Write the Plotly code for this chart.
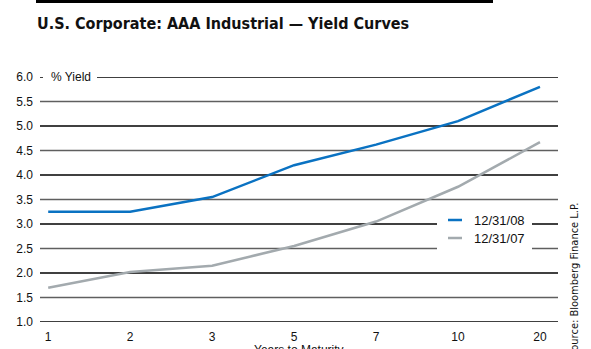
import plotly.graph_objects as go

# Yield curve data: maturity buckets (years) and yields (%)
maturities = ["1", "2", "3", "5", "7", "10", "20"]
yield_2008 = [3.25, 3.25, 3.55, 4.20, 4.62, 5.10, 5.80]
yield_2007 = [1.70, 2.02, 2.15, 2.55, 3.05, 3.76, 4.67]
series_names = ["12/31/08", "12/31/07"]
series_colors = ["#0a72c2", "#a3aaae"]
y_ticks = [1.0, 1.5, 2.0, 2.5, 3.0, 3.5, 4.0, 4.5, 5.0, 5.5, 6.0]

W, H = 591, 349
L, R, T, B = 40, 33, 77, 27
plot_w = W - L - R
plot_h = H - T - B

def px_x(p):
    return (p - L) / plot_w

def px_y(p):
    return (H - B - p) / plot_h

fig = go.Figure()
for name, vals, col in zip(series_names, [yield_2008, yield_2007], series_colors):
    fig.add_trace(go.Scatter(x=maturities, y=vals, mode="lines", name=name,
                             line=dict(color=col, width=2.5), showlegend=False))

shapes = []
# alternating black / gray horizontal rules
for v in y_ticks:
    whole = abs(v - round(v)) < 1e-9
    shapes.append(dict(type="line", xref="paper", yref="y", x0=0, x1=1, y0=v, y1=v,
                       line=dict(color="#000000" if whole else "#5f5f5f", width=1.4),
                       layer="below"))
# top rule above the title
shapes.append(dict(type="rect", xref="paper", yref="paper", x0=px_x(36), x1=px_x(493),
                   y0=px_y(3), y1=px_y(0), fillcolor="#000000", line_width=0))
# gap in the top rule for the axis caption
shapes.append(dict(type="rect", xref="paper", yref="paper", x0=px_x(43), x1=px_x(97),
                   y0=px_y(83), y1=px_y(71), fillcolor="white", line_width=0, layer="below"))
# legend panel
shapes.append(dict(type="rect", xref="paper", yref="paper", x0=px_x(437), x1=px_x(532),
                   y0=px_y(252), y1=px_y(211), fillcolor="white", line_width=0, layer="below"))
legend_rows = [220, 238]
for yy, col in zip(legend_rows, series_colors):
    shapes.append(dict(type="line", xref="paper", yref="paper", x0=px_x(448), x1=px_x(462),
                       y0=px_y(yy), y1=px_y(yy), line=dict(color=col, width=2.5)))

font = "Liberation Sans, Arial, sans-serif"
narrow = "DejaVu Sans Condensed, Liberation Sans, sans-serif"
annotations = [
    dict(text="% Yield", xref="paper", yref="y", x=px_x(49), y=6.0, xanchor="left",
         yanchor="middle", showarrow=False,
         font=dict(family=font, size=12, color="#111")),
    dict(text="Years to Maturity", xref="paper", yref="paper", x=px_x(299), y=px_y(341),
         xanchor="center", yanchor="top", showarrow=False,
         font=dict(family=font, size=12, color="#111")),
    dict(text="Source: Bloomberg Finance L.P.", xref="paper", yref="paper",
         x=px_x(574), y=px_y(280), xanchor="center", yanchor="middle", textangle=-90,
         showarrow=False, font=dict(family=narrow, size=11, color="#111")),
]
for yy, name in zip(legend_rows, series_names):
    annotations.append(dict(text=name, xref="paper", yref="paper", x=px_x(472), y=px_y(yy),
                            xanchor="left", yanchor="middle", showarrow=False,
                            font=dict(family=font, size=13, color="#111")))

fig.update_layout(
    width=W, height=H,
    margin=dict(l=L, r=R, t=T, b=B, pad=0),
    paper_bgcolor="white", plot_bgcolor="white",
    title=dict(text="<b>U.S. Corporate: AAA Industrial — Yield Curves</b>",
               xref="container", yref="container", x=37 / W, y=1 - 23 / H,
               xanchor="left", yanchor="middle",
               font=dict(family=narrow, size=16, color="#111")),
    xaxis=dict(type="category", range=[-0.1, 6.22], showgrid=False, zeroline=False,
               showline=False, ticks="", ticklabelstandoff=6, automargin=False,
               tickfont=dict(family=font, size=12, color="#111")),
    yaxis=dict(range=[1, 6], tickvals=y_ticks, ticktext=[f"{v:.1f}" for v in y_ticks],
               showgrid=False, zeroline=False, showline=False, ticks="", automargin=False,
               ticklabelstandoff=6, tickfont=dict(family=font, size=12, color="#111")),
    shapes=shapes, annotations=annotations,
    showlegend=False,
)

fig.write_html("out.html")
